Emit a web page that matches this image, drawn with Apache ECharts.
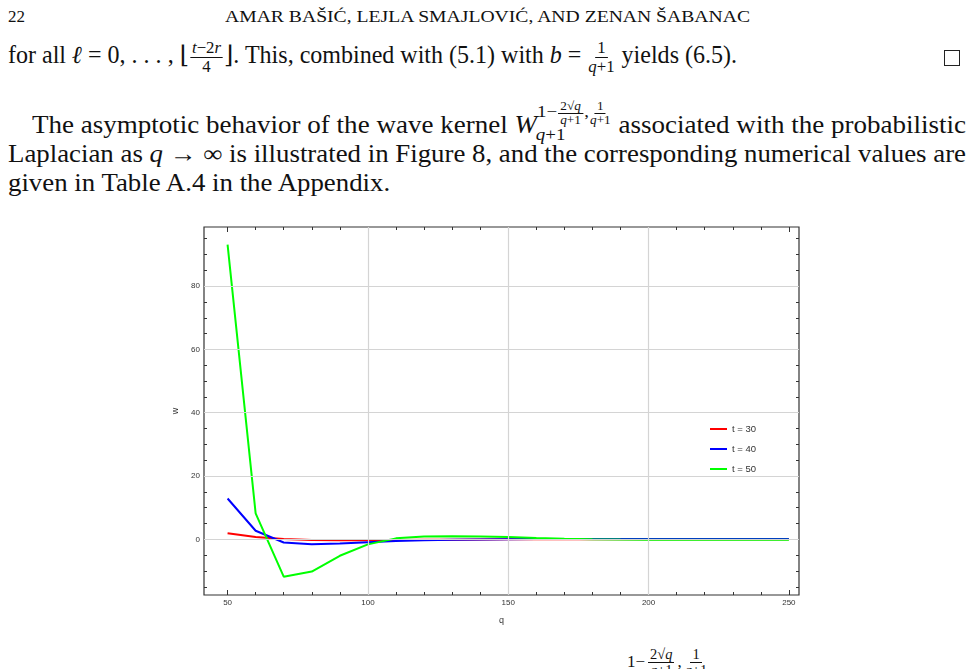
<!DOCTYPE html>
<html>
<head>
<meta charset="utf-8">
<script src="https://cdn.jsdelivr.net/npm/echarts@6/dist/echarts.min.js"></script>
<style>
  html, body { margin: 0; padding: 0; background: #fff; }
  body { width: 976px; height: 669px; overflow: hidden; position: relative;
         font-family: "Liberation Serif", "DejaVu Serif", serif; color: #111; }
  .ln { position: absolute; white-space: nowrap; line-height: 40px; font-size: 24.5px; transform-origin: 0 0; }
  .fr { display: inline-flex; flex-direction: column; align-items: center;
        vertical-align: 0.54em; font-size: 0.7em; line-height: 1.05; margin: 0 1px; }
  .fr .n { border-bottom: 1px solid #111; padding: 0 2px; }
  .ss { position: relative; font-size: 0.7em; }
  .ss .sp { position: relative; top: -16px; }
  .ss .sb { position: absolute; left: -1px; top: 8px; line-height: 1; }
  .qed { position: absolute; left: 944px; top: 50px; width: 14px; height: 14px; border: 1px solid #222; }
  #chart { position: absolute; left: 140px; top: 200px; width: 700px; height: 440px; }
</style>
</head>
<body>

<div class="ln" style="left:8px;top:-2.7px;font-size:17px">22</div>
<div class="ln" data-w="525" style="left:225px;top:-2.7px;font-size:17px">AMAR BAŠIĆ, LEJLA SMAJLOVIĆ, AND ZENAN ŠABANAC</div>

<div class="ln" data-w="729" style="left:8px;top:34.7px">for all <i>ℓ</i> = 0, . . . , ⌊<span class="fr"><span class="n"><i>t</i>−2<i>r</i></span><span>4</span></span>⌋. This, combined with (5.1) with <i>b</i> = <span class="fr"><span class="n">1</span><span><i>q</i>+1</span></span> yields (6.5).</div>
<div class="qed"></div>

<div class="ln" data-w="934" style="left:32px;top:92.7px;line-height:64px">The asymptotic behavior of the wave kernel <i>W</i><span class="ss"><span class="sp">1−<span class="fr"><span class="n">2√<i>q</i></span><span><i>q</i>+1</span></span>,<span class="fr"><span class="n">1</span><span><i>q</i>+1</span></span></span><span class="sb"><i>q</i>+1</span></span> associated with the probabilistic</div>
<div class="ln" id="l2" data-w="958" style="left:8px;top:133.7px">Laplacian as <i>q</i> → ∞ is illustrated in Figure 8, and the corresponding numerical values are</div>
<div class="ln" id="l3" style="left:8px;top:162.7px">given in Table A.4 in the Appendix.</div>

<div id="chart"></div>

<div class="ln" style="left:627px;top:642px;font-size:17px">1−<span class="fr" style="font-size:0.85em;margin:0 3px"><span class="n">2√<i>q</i></span><span><i>q</i>+1</span></span>,<span class="fr" style="font-size:0.85em;margin:0 3px"><span class="n">1</span><span><i>q</i>+1</span></span></div>

<script>
  // q 取值
  var qValues = [50, 60, 70, 80, 90, 100, 110, 120, 130, 140, 150, 160, 170, 180, 190, 200, 210, 220, 230, 240, 250];
  // w 值，t = 30 / 40 / 50
  var w30 = [1.9, 0.7, 0.1, -0.2, -0.3, -0.3, -0.2, -0.15, -0.1, -0.05, 0, 0, 0, 0, 0, 0, 0, 0, 0, 0, 0];
  var w40 = [12.9, 2.7, -1.0, -1.6, -1.3, -0.9, -0.5, -0.3, -0.15, -0.05, 0.05, 0.1, 0.1, 0.1, 0.1, 0.1, 0.1, 0.1, 0.1, 0.1, 0.1];
  var w50 = [93.1, 8.2, -11.8, -10.2, -5.2, -1.6, 0.3, 0.9, 1.0, 0.9, 0.7, 0.4, 0.2, 0.05, -0.05, -0.1, -0.1, -0.15, -0.15, -0.15, -0.15];
  var seriesNames = ['t = 30', 't = 40', 't = 50'];
  var seriesColors = ['#ff0000', '#0000ff', '#00ff00'];

  // 刻度
  var xMajor = [50, 100, 150, 200, 250];
  var xMinor = [60, 70, 80, 90, 110, 120, 130, 140, 160, 170, 180, 190, 210, 220, 230, 240];
  var yMajor = [0, 20, 40, 60, 80];
  var yMinor = [-15, -10, -5, 5, 10, 15, 25, 30, 35, 45, 50, 55, 65, 70, 75, 85, 90, 95];
  // 网格线
  var xGrid = [100, 150, 200];
  var yGrid = [0, 20, 40, 60, 80];

  // 正文按原宽度横向拉伸（CM 字体比 Times 宽）
  var lastScale = 1;
  document.querySelectorAll('.ln[data-w]').forEach(function (el) {
    var nat = el.getBoundingClientRect().width;
    lastScale = Number(el.getAttribute('data-w')) / nat;
    el.style.transform = 'scaleX(' + lastScale + ')';
  });
  document.getElementById('l3').style.transform = 'scaleX(' + lastScale + ')';

  var axisFont = '"Liberation Sans", Arial, sans-serif';
  var xMin = 41.6, xMax = 253.6, yMin = -17.6, yMax = 98.7;

  function frameAxis(position, ticks, len, labels, extra) {
    var horiz = position === 'top' || position === 'bottom';
    var ax = {
      type: 'value',
      position: position,
      min: horiz ? xMin : yMin,
      max: horiz ? xMax : yMax,
      axisLine: { show: false, onZero: false },
      splitLine: { show: false },
      axisTick: {
        inside: true,
        length: len,
        customValues: ticks,
        lineStyle: { color: '#333', width: 1 }
      },
      axisLabel: labels ? {
        customValues: ticks,
        fontSize: 8,
        color: '#333',
        margin: 4,
        fontFamily: axisFont
      } : { show: false }
    };
    for (var k in extra) ax[k] = extra[k];
    return ax;
  }

  var myChart = echarts.init(document.getElementById('chart'));

  var series = [{
    name: 'grid',
    type: 'line',
    data: [],
    z: 1,
    silent: true,
    markLine: {
      silent: true,
      symbol: ['none', 'none'],
      animation: false,
      label: { show: false },
      lineStyle: { color: '#d4d4d4', width: 1.2, type: 'solid' },
      data: xGrid.map(function (v) { return { xAxis: v }; })
        .concat(yGrid.map(function (v) { return { yAxis: v }; }))
    }
  }];
  [w30, w40, w50].forEach(function (arr, i) {
    series.push({
      name: seriesNames[i],
      type: 'line',
      z: 2 + i,
      showSymbol: false,
      symbol: 'none',
      color: seriesColors[i],
      lineStyle: { width: 2, color: seriesColors[i] },
      data: qValues.map(function (q, j) { return [q, arr[j]]; })
    });
  });

  myChart.setOption({
    animation: false,
    grid: {
      left: 64, top: 27, width: 595, height: 368,
      show: true,
      borderColor: '#333',
      borderWidth: 1.2,
      backgroundColor: 'transparent'
    },
    legend: {
      orient: 'vertical',
      left: 565,
      top: 218,
      itemWidth: 17,
      itemHeight: 2,
      itemGap: 8,
      icon: 'rect',
      data: seriesNames,
      textStyle: { fontSize: 9.5, color: '#333', fontFamily: axisFont, lineHeight: 12 }
    },
    xAxis: [
      frameAxis('bottom', xMajor, 5, true, {
        name: 'q', nameLocation: 'middle', nameGap: 21,
        nameTextStyle: { fontSize: 9, color: '#333', fontFamily: axisFont }
      }),
      frameAxis('bottom', xMinor, 3, false),
      frameAxis('top', xMajor, 5, false),
      frameAxis('top', xMinor, 3, false)
    ],
    yAxis: [
      frameAxis('left', yMajor, 5, true, {
        name: 'w', nameLocation: 'middle', nameGap: 18,
        nameTextStyle: { fontSize: 9, color: '#333', fontFamily: axisFont }
      }),
      frameAxis('left', yMinor, 3, false),
      frameAxis('right', yMajor, 5, false),
      frameAxis('right', yMinor, 3, false)
    ],
    series: series
  });
</script>
</body>
</html>
